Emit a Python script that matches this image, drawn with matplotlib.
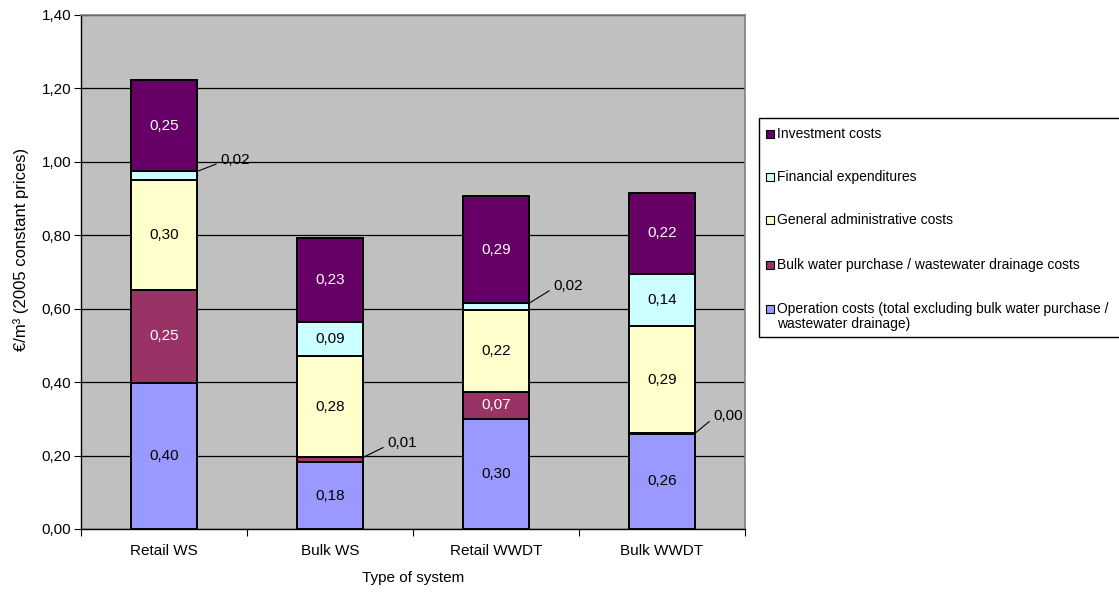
import matplotlib
matplotlib.use("Agg")
import matplotlib.pyplot as plt
from matplotlib.patches import Rectangle
from matplotlib.ticker import FuncFormatter, FixedLocator
import numpy as np

plt.rcParams['font.family'] = ['Liberation Sans', 'DejaVu Sans']

# Categories and cost components (EUR/m3, 2005 constant prices)
systems = ["Retail WS", "Bulk WS", "Retail WWDT", "Bulk WWDT"]
operation = [0.398, 0.182, 0.300, 0.259]
bulk_purchase = [0.253, 0.013, 0.074, 0.002]
general_admin = [0.299, 0.276, 0.223, 0.291]
financial = [0.024, 0.093, 0.018, 0.143]
investment = [0.248, 0.229, 0.291, 0.220]

series_names = [
    "Operation costs (total excluding bulk water purchase /\nwastewater drainage)",
    "Bulk water purchase / wastewater drainage costs",
    "General administrative costs",
    "Financial expenditures",
    "Investment costs",
]
series_values = [operation, bulk_purchase, general_admin, financial, investment]
series_colors = ["#9999FF", "#993366", "#FFFFCC", "#CCFFFF", "#660066"]
label_colors = ["black", "white", "black", "black", "white"]

# Segments labelled outside the bar with a leader line:
# (system index, series index) -> text offset in pixels (dx, dy)
callouts = {
    (0, 3): (23, 11),
    (1, 1): (24, 14),
    (2, 3): (24, 17),
    (3, 1): (18, 17),
}

W, H, DPI = 1119, 592, 100
FS = 11
fig = plt.figure(figsize=(W / DPI, H / DPI), dpi=DPI)
ax = fig.add_axes([81 / W, 1 - 529 / H, (745 - 81) / W, (529 - 15) / H])
ax.set_facecolor("#C0C0C0")

x = np.arange(len(systems))
bar_w = 0.40
px2pt = 72 / DPI

bottom = np.zeros(len(systems))
for si, (vals, col, lcol) in enumerate(zip(series_values, series_colors, label_colors)):
    vals = np.array(vals)
    ax.bar(x, vals, bar_w, bottom=bottom, color=col, edgecolor="black",
           linewidth=1.4, zorder=3)
    for ci, v in enumerate(vals):
        txt = f"{v:.2f}".replace(".", ",")
        if (ci, si) in callouts:
            dx, dy = callouts[(ci, si)]
            ax.annotate(txt, xy=(x[ci] + bar_w / 2, bottom[ci] + v),
                        xytext=(dx * px2pt, dy * px2pt), textcoords="offset points",
                        ha="left", va="center", fontsize=FS, color="black",
                        arrowprops=dict(arrowstyle="-", color="black", lw=0.8,
                                        relpos=(0, 0.35), shrinkA=1, shrinkB=0),
                        zorder=5)
        else:
            ax.text(x[ci], bottom[ci] + v / 2, txt, ha="center", va="center",
                    fontsize=FS, color=lcol, zorder=4)
    bottom = bottom + vals

ax.set_xlim(-0.5, len(systems) - 0.5)
ax.set_ylim(0, 1.4)
ax.set_yticks(np.arange(0, 1.41, 0.2))
ax.yaxis.set_major_formatter(FuncFormatter(lambda v, p: f"{v:.2f}".replace(".", ",")))
ax.yaxis.grid(True, color="black", linewidth=0.9, zorder=1)
ax.set_axisbelow(True)

# category labels between boundary ticks
ax.xaxis.set_major_locator(FixedLocator(np.arange(-0.5, len(systems), 1.0)))
ax.xaxis.set_ticklabels([])
ax.xaxis.set_minor_locator(FixedLocator(x))
ax.xaxis.set_minor_formatter(FuncFormatter(lambda v, p: systems[int(round(v))]))
ax.tick_params(axis="x", which="minor", length=0, pad=11, labelsize=FS)
ax.tick_params(axis="x", which="major", length=5, direction="out", width=0.8)
ax.tick_params(axis="y", length=5, direction="out", width=0.8, labelsize=FS, pad=2)

for s in ["top", "right"]:
    ax.spines[s].set_color("#808080")
    ax.spines[s].set_linewidth(1.2)
for s in ["left", "bottom"]:
    ax.spines[s].set_color("black")
    ax.spines[s].set_linewidth(1.0)

ax.set_xlabel("Type of system", fontsize=FS, labelpad=9)
ax.set_ylabel("€/m³ (2005 constant prices)", fontsize=12, va="center")
ax.yaxis.set_label_coords((21 - 81) / (745 - 81), (529 - 249) / (529 - 15))

# Legend box on the right
lx0, ly0, ly1 = 759, 118, 337
fig.patches.append(Rectangle((lx0 / W, 1 - ly1 / H), (W + 20 - lx0) / W, (ly1 - ly0) / H,
                             transform=fig.transFigure, facecolor="white",
                             edgecolor="black", linewidth=1.0, clip_on=False))
legend_rows = [134, 177, 220, 265, 309]
for yrow, si in zip(legend_rows, [4, 3, 2, 1, 0]):
    fig.patches.append(Rectangle((766 / W, 1 - (yrow + 4) / H), 8 / W, 8 / H,
                                 transform=fig.transFigure,
                                 facecolor=series_colors[si], edgecolor="black",
                                 linewidth=0.8))
    fig.text(777 / W, 1 - (yrow - 7) / H, series_names[si], ha="left", va="top",
             fontsize=10, linespacing=1.05)

fig.savefig("out.png", dpi=DPI)
